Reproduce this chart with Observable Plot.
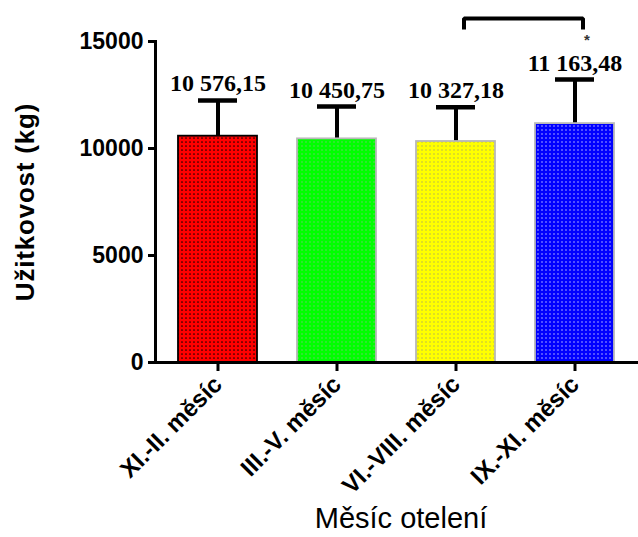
<!DOCTYPE html>
<html>
<head>
<meta charset="utf-8">
<script src="https://cdn.jsdelivr.net/npm/d3@7"></script>
<script src="https://cdn.jsdelivr.net/npm/@observablehq/plot@0.6"></script>
<style>
  body { margin: 0; background: #fff; }
  svg { display: block; }
</style>
</head>
<body>
<div id="chart"></div>
<script>
// ---- data ----
const categories = ["XI.-II. měsíc", "III.-V. měsíc", "VI.-VIII. měsíc", "IX.-XI. měsíc"];
const means = [10576.15, 10450.75, 10327.18, 11163.48];
const sds = [1670, 1510, 1600, 2060];
const fills = ["url(#pRed)", "url(#pGreen)", "url(#pYellow)", "url(#pBlue)"];
const strokes = ["#000000", "#b8b8b8", "#b8b8b8", "#b8b8b8"];
const yTicks = [0, 5000, 10000, 15000];
const bracketFrom = "VI.-VIII. měsíc";
const bracketTo = "IX.-XI. měsíc";
const bracketTop = 16080;
const bracketBottom = 15650;
const starValue = 15080;
const yTitle = "Užitkovost (kg)";
const xTitle = "Měsíc otelení";

const data = categories.map((c, i) => ({cat: c, mean: means[i], sd: sds[i], top: means[i] + sds[i], fill: fills[i], stroke: strokes[i]}));
const bracket = [
  {cat: bracketFrom, y: bracketBottom},
  {cat: bracketFrom, y: bracketTop},
  {cat: bracketTo, y: bracketTop},
  {cat: bracketTo, y: bracketBottom}
];

function czFormat(v) {
  const [int, dec] = v.toFixed(2).split(".");
  return int.replace(/\B(?=(\d{3})+(?!\d))/g, " ") + "," + dec;
}

const chart = Plot.plot({
  width: 638,
  height: 537,
  marginLeft: 155,
  marginRight: 0,
  marginTop: 41,
  marginBottom: 175,
  style: {fontFamily: "Liberation Sans, Arial, sans-serif", color: "#000", background: "#fff", overflow: "visible"},
  x: {domain: categories, paddingInner: 0.333, paddingOuter: 0.18, label: null},
  y: {domain: [0, 15000], label: null},
  color: {type: "identity"},
  marks: [
    Plot.ruleX(data, {x: "cat", y1: "mean", y2: "top", stroke: "#000", strokeWidth: 4}),
    Plot.tickY(data, {x: "cat", y: "top", stroke: "#000", strokeWidth: 4.5, insetLeft: 20, insetRight: 20}),
    Plot.barY(data, {x: "cat", y: "mean", fill: "fill", stroke: "stroke", strokeWidth: 1.8}),
    Plot.text(data, {x: "cat", y: "top", text: d => czFormat(d.mean), dy: -9, lineAnchor: "bottom",
      fontFamily: "Liberation Serif, Times New Roman, serif", fontWeight: "bold", fontSize: 24, fill: "#000"}),
    Plot.line(bracket, {x: "cat", y: "y", dx: 8, stroke: "#000", strokeWidth: 4, strokeLinejoin: "miter", strokeLinecap: "square"}),
    Plot.text(["*"], {x: () => bracketTo, y: () => starValue, dx: 12, fontSize: 15, fill: "#333", fontWeight: "bold"}),
    Plot.axisY({ticks: yTicks, tickFormat: d => String(d), tickSize: 7, tickPadding: 5, strokeWidth: 3,
      fontSize: 23, fontWeight: "bold", label: null}),
    Plot.axisX({tickRotate: -45, tickSize: 9, tickPadding: 9, strokeWidth: 3, fontSize: 24, fontWeight: "bold", label: null}),
    Plot.ruleY([0], {stroke: "#000", strokeWidth: 3}),
    Plot.frame({anchor: "left", stroke: "#000", strokeWidth: 3}),
    Plot.text([yTitle], {frameAnchor: "left", textAnchor: "middle", rotate: -90, dx: -130, fontSize: 26, fontWeight: "bold", fill: "#000", className: "ytitle"}),
    Plot.text([xTitle], {frameAnchor: "bottom", textAnchor: "middle", dx: 4, dy: 165, fontSize: 29, fill: "#000"})
  ]
});

// dotted pattern fills
const svg = d3.select(chart);
svg.selectAll(".ytitle text").style("letter-spacing", "0.8px");
const defs = svg.insert("defs", ":first-child");
function pattern(id, bg, dot, r) {
  const p = defs.append("pattern").attr("id", id).attr("width", 4).attr("height", 4).attr("patternUnits", "userSpaceOnUse");
  p.append("rect").attr("width", 4).attr("height", 4).attr("fill", bg);
  p.append("circle").attr("cx", 2).attr("cy", 2).attr("r", r).attr("fill", dot);
}
pattern("pRed", "#ff0000", "#220000", 0.85);
pattern("pGreen", "#00ff00", "#7fbf7f", 0.7);
pattern("pYellow", "#ffff00", "#a8a860", 0.7);
pattern("pBlue", "#0000ff", "#c8c8ff", 0.75);

document.getElementById("chart").appendChild(chart);
</script>
</body>
</html>
